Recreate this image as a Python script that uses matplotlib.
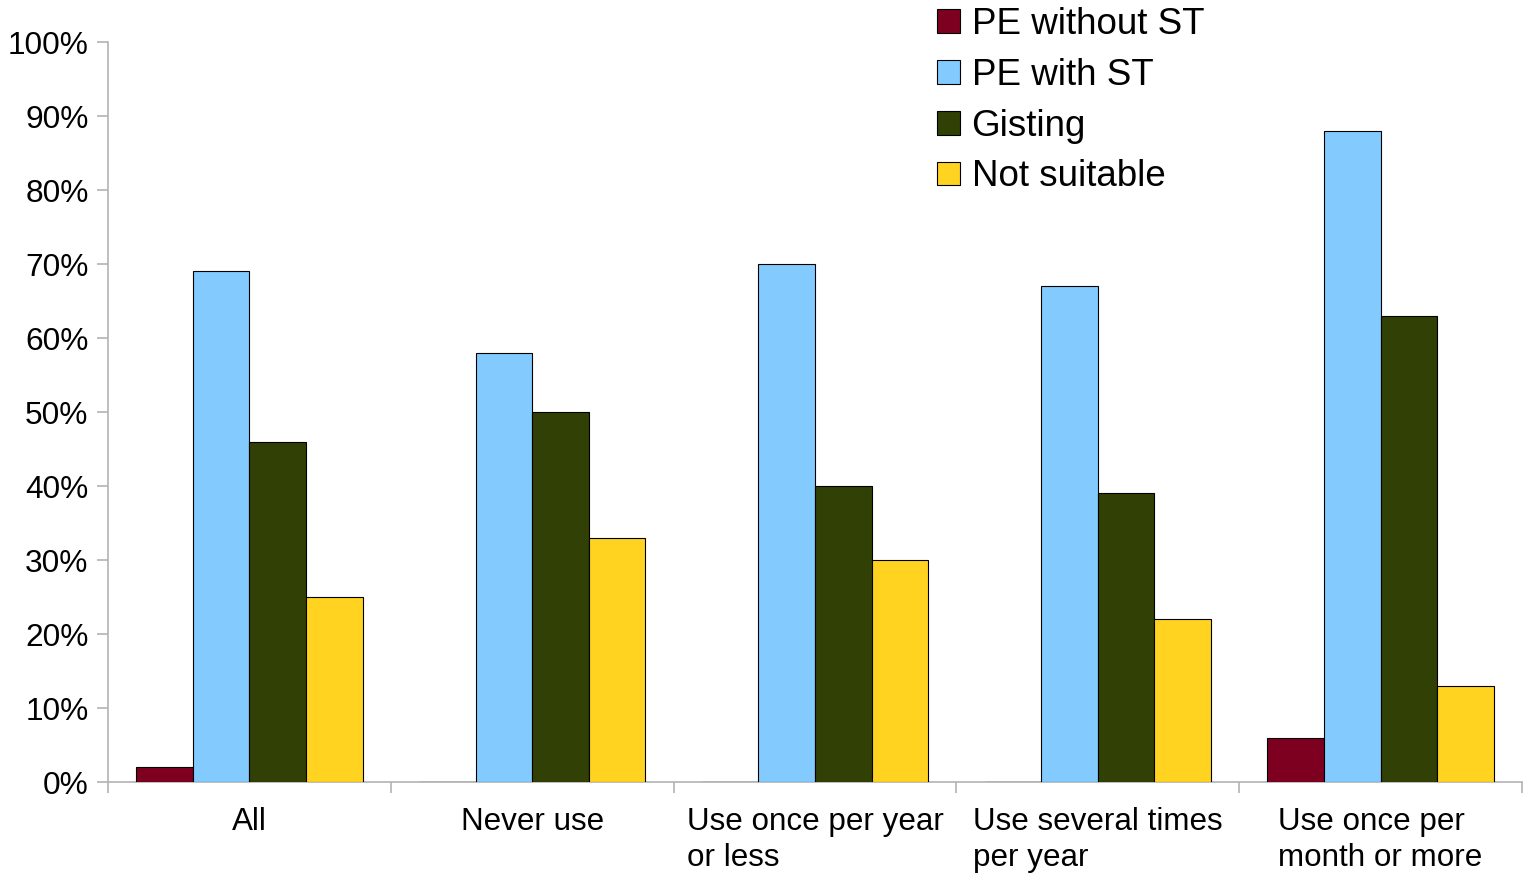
import matplotlib
matplotlib.use('Agg')
import matplotlib.pyplot as plt
import numpy as np
from matplotlib.ticker import FixedLocator

plt.rcParams['font.family'] = ['Liberation Sans', 'DejaVu Sans']

# Survey results, percentages per usage group
groups = ['All', 'Never use', 'Use once per year\nor less',
          'Use several times\nper year', 'Use once per\nmonth or more']
pe_without_st = [2, 0, 0, 0, 6]
pe_with_st = [69, 58, 70, 67, 88]
gisting = [46, 50, 40, 39, 63]
not_suitable = [25, 33, 30, 22, 13]

series = [
    ('PE without ST', pe_without_st, '#7e0021'),
    ('PE with ST', pe_with_st, '#83caff'),
    ('Gisting', gisting, '#314004'),
    ('Not suitable', not_suitable, '#ffd320'),
]

W, H = 1525, 874
fig = plt.figure(figsize=(W / 100, H / 100), dpi=100)
ax = fig.add_axes([108 / W, (H - 782) / H, (1522 - 108) / W, (782 - 42) / H])

x = np.arange(len(groups))
width = 0.2
for i, (name, vals, color) in enumerate(series):
    offset = (i - 1.5) * width
    ax.bar(x + offset, vals, width, color=color, edgecolor='black',
           linewidth=0.8, label=name, zorder=3)

ax.set_xlim(-0.5, len(groups) - 0.5)
ax.set_ylim(0, 100)

axis_gray = '#b3b3b3'
for side in ['top', 'right']:
    ax.spines[side].set_visible(False)
for side in ['left', 'bottom']:
    ax.spines[side].set_color(axis_gray)
    ax.spines[side].set_linewidth(1.2)

ax.set_yticks(np.arange(0, 101, 10))
ax.set_yticklabels([f'{v}%' for v in range(0, 101, 10)])
ax.tick_params(axis='y', length=8, width=1.2, color=axis_gray, pad=6,
               labelsize=22.8)

# category labels at group centres, tick marks between groups
ax.set_xticks(x)
ax.set_xticklabels(groups, multialignment='left')
ax.xaxis.set_minor_locator(FixedLocator(np.arange(-0.5, len(groups), 1.0)))
ax.tick_params(axis='x', which='major', length=0, pad=18, labelsize=22.6)
ax.tick_params(axis='x', which='minor', length=8, width=1.2, color=axis_gray)
for lbl in ax.get_xticklabels():
    lbl.set_linespacing(1.25)

fig.legend(loc='upper left', bbox_to_anchor=(937 / W, 1 - 7 / H),
           frameon=False, fontsize=26.5, handlelength=0.62, handleheight=0.62,
           handletextpad=0.32, labelspacing=0.43, borderpad=0, borderaxespad=0)

fig.savefig('out.png', dpi=100)
